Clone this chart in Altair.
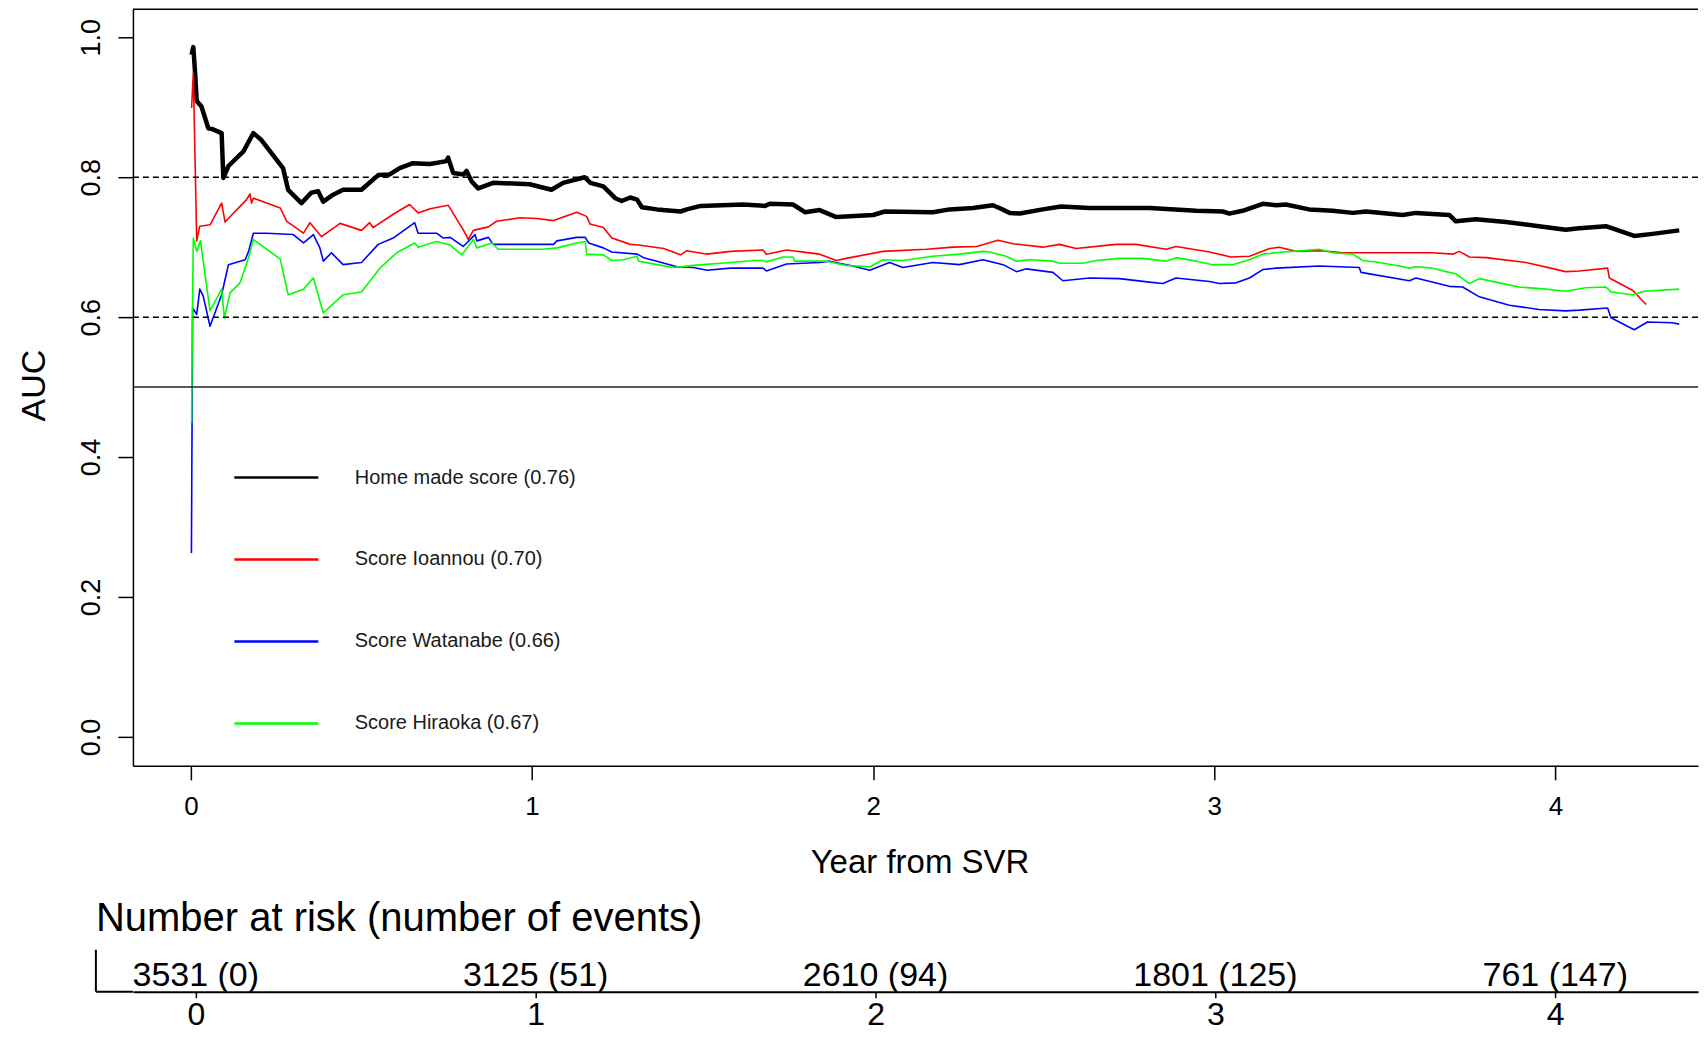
import altair as alt
import pandas as pd

FONT = "Liberation Sans"

# ---------------- data ----------------
series_names = [
    "Home made score (0.76)",
    "Score Ioannou (0.70)",
    "Score Watanabe (0.66)",
    "Score Hiraoka (0.67)",
]
series_colors = ["#000000", "#FF0000", "#0000FF", "#00FF00"]
series_widths = [4.5, 1.6, 1.6, 1.6]

home_t = [0.002, 0.007, 0.012, 0.017, 0.031, 0.051, 0.061, 0.090, 0.095, 0.110, 0.154, 0.183,
          0.205, 0.270, 0.285, 0.324, 0.353, 0.373, 0.388, 0.417, 0.446, 0.500, 0.549, 0.583,
          0.612, 0.651, 0.701, 0.749, 0.754, 0.769, 0.799, 0.808, 0.823, 0.842, 0.886, 0.993,
          1.057, 1.091, 1.154, 1.171, 1.209, 1.244, 1.263, 1.288, 1.308, 1.322, 1.366, 1.435,
          1.454, 1.494, 1.619, 1.683, 1.697, 1.765, 1.800, 1.843, 1.892, 2.000, 2.034, 2.175,
          2.224, 2.293, 2.351, 2.370, 2.400, 2.430, 2.497, 2.551, 2.634, 2.810, 2.947, 3.025,
          3.044, 3.083, 3.142, 3.181, 3.210, 3.278, 3.347, 3.406, 3.445, 3.552, 3.591, 3.689,
          3.708, 3.767, 3.855, 3.952, 4.030, 4.070, 4.148, 4.231, 4.285, 4.363]
home_auc = [0.975, 0.986, 0.951, 0.909, 0.901, 0.870, 0.869, 0.863, 0.799, 0.816, 0.837, 0.863,
            0.854, 0.813, 0.782, 0.763, 0.778, 0.780, 0.765, 0.775, 0.782, 0.782, 0.803, 0.804,
            0.813, 0.820, 0.819, 0.823, 0.828, 0.806, 0.804, 0.809, 0.794, 0.784, 0.792, 0.790,
            0.782, 0.792, 0.800, 0.792, 0.787, 0.770, 0.766, 0.771, 0.768, 0.757, 0.754, 0.751,
            0.754, 0.759, 0.761, 0.759, 0.762, 0.761, 0.750, 0.753, 0.743, 0.746, 0.751, 0.750,
            0.754, 0.756, 0.760, 0.756, 0.749, 0.748, 0.754, 0.758, 0.756, 0.756, 0.752, 0.751,
            0.748, 0.752, 0.762, 0.760, 0.761, 0.754, 0.752, 0.749, 0.751, 0.746, 0.749, 0.746,
            0.737, 0.740, 0.736, 0.730, 0.725, 0.727, 0.730, 0.716, 0.719, 0.724]

ioannou_t = [0.002, 0.007, 0.017, 0.026, 0.056, 0.090, 0.100, 0.163, 0.173, 0.178, 0.183, 0.262,
             0.281, 0.330, 0.349, 0.383, 0.437, 0.500, 0.524, 0.534, 0.593, 0.641, 0.666, 0.701,
             0.754, 0.798, 0.813, 0.828, 0.872, 0.896, 0.965, 1.014, 1.063, 1.131, 1.160, 1.170,
             1.209, 1.234, 1.288, 1.312, 1.386, 1.435, 1.454, 1.513, 1.582, 1.677, 1.687, 1.746,
             1.843, 1.892, 1.921, 2.029, 2.156, 2.234, 2.303, 2.366, 2.410, 2.497, 2.546, 2.595,
             2.712, 2.771, 2.859, 2.888, 2.986, 3.049, 3.103, 3.162, 3.191, 3.240, 3.308, 3.377,
             3.640, 3.699, 3.718, 3.748, 3.797, 3.914, 4.030, 4.070, 4.153, 4.158, 4.227, 4.266]
ioannou_auc = [0.899, 0.949, 0.709, 0.730, 0.732, 0.763, 0.736, 0.768, 0.776, 0.763, 0.770, 0.756,
               0.737, 0.720, 0.735, 0.715, 0.734, 0.724, 0.735, 0.728, 0.747, 0.761, 0.749, 0.755,
               0.760, 0.725, 0.711, 0.724, 0.729, 0.737, 0.742, 0.741, 0.738, 0.750, 0.744, 0.733,
               0.728, 0.713, 0.704, 0.703, 0.698, 0.689, 0.695, 0.690, 0.694, 0.696, 0.690, 0.696,
               0.690, 0.681, 0.684, 0.694, 0.697, 0.700, 0.701, 0.710, 0.705, 0.700, 0.704, 0.698,
               0.704, 0.704, 0.697, 0.701, 0.693, 0.686, 0.687, 0.698, 0.700, 0.694, 0.695, 0.692,
               0.692, 0.690, 0.694, 0.686, 0.685, 0.678, 0.665, 0.666, 0.670, 0.656, 0.638, 0.618]

watanabe_t = [0.0015, 0.005, 0.017, 0.026, 0.036, 0.056, 0.090, 0.110, 0.159, 0.169, 0.183, 0.222,
              0.300, 0.330, 0.359, 0.378, 0.388, 0.412, 0.446, 0.500, 0.549, 0.593, 0.656, 0.666,
              0.720, 0.740, 0.760, 0.798, 0.833, 0.838, 0.872, 0.886, 1.063, 1.073, 1.131, 1.156,
              1.166, 1.209, 1.234, 1.308, 1.327, 1.366, 1.425, 1.473, 1.513, 1.582, 1.677, 1.687,
              1.746, 1.843, 1.872, 1.940, 1.990, 2.048, 2.087, 2.175, 2.253, 2.322, 2.381, 2.420,
              2.449, 2.527, 2.556, 2.634, 2.722, 2.810, 2.849, 2.888, 2.986, 3.015, 3.064, 3.103,
              3.142, 3.181, 3.308, 3.425, 3.430, 3.572, 3.591, 3.689, 3.728, 3.777, 3.865, 3.952,
              4.030, 4.070, 4.153, 4.163, 4.231, 4.270, 4.343, 4.363]
watanabe_auc = [0.263, 0.613, 0.604, 0.640, 0.630, 0.587, 0.632, 0.675, 0.682, 0.694, 0.720, 0.720,
                0.718, 0.706, 0.718, 0.699, 0.680, 0.692, 0.675, 0.678, 0.704, 0.713, 0.735, 0.720,
                0.720, 0.713, 0.714, 0.701, 0.718, 0.709, 0.714, 0.704, 0.704, 0.709, 0.714, 0.714,
                0.706, 0.699, 0.693, 0.690, 0.685, 0.680, 0.672, 0.671, 0.667, 0.670, 0.670, 0.666,
                0.676, 0.678, 0.680, 0.673, 0.667, 0.678, 0.671, 0.678, 0.675, 0.682, 0.675, 0.665,
                0.669, 0.664, 0.652, 0.656, 0.655, 0.650, 0.648, 0.656, 0.651, 0.648, 0.649, 0.656,
                0.668, 0.670, 0.673, 0.671, 0.664, 0.652, 0.656, 0.644, 0.643, 0.629, 0.617, 0.611,
                0.609, 0.610, 0.613, 0.599, 0.582, 0.593, 0.592, 0.590]

hiraoka_t = [0.002, 0.004, 0.007, 0.017, 0.028, 0.056, 0.090, 0.098, 0.115, 0.144, 0.169, 0.183,
             0.262, 0.285, 0.330, 0.359, 0.388, 0.446, 0.500, 0.554, 0.603, 0.656, 0.666, 0.720,
             0.760, 0.794, 0.828, 0.838, 0.882, 0.901, 1.033, 1.073, 1.131, 1.156, 1.160, 1.209,
             1.234, 1.268, 1.308, 1.312, 1.366, 1.415, 1.473, 1.582, 1.648, 1.677, 1.687, 1.736,
             1.765, 1.770, 1.863, 1.921, 1.990, 2.029, 2.087, 2.175, 2.253, 2.322, 2.342, 2.390,
             2.420, 2.459, 2.527, 2.546, 2.615, 2.654, 2.722, 2.790, 2.859, 2.888, 2.947, 2.996,
             3.054, 3.103, 3.142, 3.201, 3.230, 3.308, 3.347, 3.406, 3.435, 3.484, 3.542, 3.572,
             3.591, 3.640, 3.689, 3.708, 3.748, 3.777, 3.835, 3.894, 3.972, 4.030, 4.089, 4.148,
             4.163, 4.227, 4.261, 4.363]
hiraoka_auc = [0.449, 0.583, 0.713, 0.694, 0.709, 0.609, 0.640, 0.599, 0.635, 0.649, 0.685, 0.711,
               0.683, 0.632, 0.640, 0.656, 0.606, 0.632, 0.636, 0.670, 0.692, 0.706, 0.700, 0.708,
               0.703, 0.689, 0.711, 0.699, 0.706, 0.697, 0.697, 0.699, 0.706, 0.708, 0.690, 0.689,
               0.681, 0.682, 0.687, 0.680, 0.675, 0.671, 0.674, 0.678, 0.681, 0.681, 0.679, 0.686,
               0.686, 0.680, 0.680, 0.674, 0.672, 0.682, 0.681, 0.687, 0.690, 0.694, 0.693, 0.687,
               0.680, 0.682, 0.680, 0.677, 0.677, 0.681, 0.684, 0.684, 0.680, 0.685, 0.680, 0.675,
               0.675, 0.682, 0.690, 0.693, 0.694, 0.697, 0.692, 0.690, 0.681, 0.678, 0.673, 0.670,
               0.672, 0.670, 0.664, 0.662, 0.648, 0.655, 0.649, 0.643, 0.640, 0.637, 0.642, 0.643,
               0.636, 0.632, 0.637, 0.640]

ref_dashed = [0.8, 0.6]
ref_solid = [0.5]

y_ticks = [0.0, 0.2, 0.4, 0.6, 0.8, 1.0]
x_ticks = [0, 1, 2, 3, 4]

risk_years = [0, 1, 2, 3, 4]
risk_labels = ["3531 (0)", "3125 (51)", "2610 (94)", "1801 (125)", "761 (147)"]

# ---------------- build table ----------------
rows = []
for name, w, ts, vs in zip(series_names, series_widths,
                           [home_t, ioannou_t, watanabe_t, hiraoka_t],
                           [home_auc, ioannou_auc, watanabe_auc, hiraoka_auc]):
    for i, (t, v) in enumerate(zip(ts, vs)):
        rows.append({"series": name, "t": t, "auc": v, "i": i, "w": w})
df = pd.DataFrame(rows)

# ---------------- layout ----------------
W = 1566
H_A = 757
H_B = 42
X_DOM_A = [-0.17, 4.418]
Y_DOM = [-0.0414, 1.04]
X_DOM_B = [-0.185, 4.42]
B_LEFT = -0.294

xs_a = alt.Scale(domain=X_DOM_A, nice=False, zero=False)
ys_a = alt.Scale(domain=Y_DOM, nice=False, zero=False)

x_axis = alt.Axis(values=x_ticks, format="d", title="Year from SVR", grid=False,
                  labelFontSize=26, labelFont=FONT, labelColor="black", labelPadding=14,
                  labelFlush=False, labelOverlap=False,
                  tickSize=14, tickWidth=1.5, tickColor="black",
                  domainColor="black", domainWidth=1.5,
                  titleFontSize=33, titleFont=FONT, titleFontWeight="normal", titleColor="black",
                  titleX=787, titleY=107, titleAlign="center", titleBaseline="alphabetic")
y_axis = alt.Axis(values=y_ticks, format=".1f", title="AUC", grid=False,
                  labelAngle=270, labelAlign="center", labelBaseline="alphabetic",
                  labelFontSize=27, labelFont=FONT, labelColor="black", labelPadding=18,
                  labelFlush=False, labelOverlap=False,
                  tickSize=15, tickWidth=1.5, tickColor="black",
                  domainColor="black", domainWidth=1.5,
                  titleFontSize=34, titleFont=FONT, titleFontWeight="normal", titleColor="black",
                  titleAngle=270, titleX=-88, titleY=376, titleAlign="center",
                  titleBaseline="alphabetic")

lines = alt.Chart(df).mark_line(strokeJoin="round").encode(
    x=alt.X("t:Q", scale=xs_a, axis=x_axis),
    y=alt.Y("auc:Q", scale=ys_a, axis=y_axis),
    color=alt.Color("series:N",
                    scale=alt.Scale(domain=series_names, range=series_colors),
                    legend=alt.Legend(title=None, orient="none", legendX=100, legendY=425,
                                      symbolType="stroke", symbolSize=7056,
                                      symbolStrokeWidth=2.5, labelFontSize=20,
                                      labelFont=FONT, labelColor="#1a1a1a", labelOffset=35,
                                      rowPadding=28, padding=0, labelLimit=0)),
    strokeWidth=alt.StrokeWidth("w:Q", scale=None),
    order=alt.Order("i:Q"),
)

dashed = alt.Chart(pd.DataFrame({"v": ref_dashed})).mark_rule(
    color="black", strokeWidth=1.5, strokeDash=[6, 4]
).encode(y=alt.Y("v:Q", scale=ys_a, axis=y_axis))

solid = alt.Chart(pd.DataFrame({"v": ref_solid})).mark_rule(
    color="#222222", strokeWidth=1.5
).encode(y=alt.Y("v:Q", scale=ys_a, axis=y_axis))

top_frame = alt.Chart(pd.DataFrame({"v": [Y_DOM[1]]})).mark_rule(
    color="black", strokeWidth=1.5
).encode(y=alt.Y("v:Q", scale=ys_a, axis=y_axis))

chart_a = alt.layer(lines, dashed, solid, top_frame).properties(width=W, height=H_A)

# ---------------- risk table ----------------
xs_b = alt.Scale(domain=X_DOM_B, nice=False, zero=False)
x_axis_b = alt.Axis(values=x_ticks, format="d", title=None, grid=False,
                    labelFontSize=32, labelFont=FONT, labelColor="black", labelPadding=2,
                    labelFlush=False, labelOverlap=False,
                    tickSize=6, tickWidth=1.5, tickColor="black",
                    domainColor="black", domainWidth=2)

risk_df = pd.DataFrame({"year": risk_years, "label": risk_labels})
risk_text = alt.Chart(risk_df).mark_text(
    fontSize=34, font=FONT, color="black", align="center", baseline="middle"
).encode(
    x=alt.X("year:Q", scale=xs_b, axis=x_axis_b),
    y=alt.value(26),
    text="label:N",
)
left_line = alt.Chart(pd.DataFrame({"year": [B_LEFT]})).mark_rule(
    color="black", strokeWidth=2
).encode(x=alt.X("year:Q", scale=xs_b, axis=x_axis_b))
bottom_ext = alt.Chart(pd.DataFrame({"a": [B_LEFT], "b": [X_DOM_B[0]]})).mark_rule(
    color="black", strokeWidth=2
).encode(x=alt.X("a:Q", scale=xs_b, axis=x_axis_b), x2="b:Q", y=alt.value(H_B))

chart_b = alt.layer(risk_text, left_line, bottom_ext).properties(
    width=W, height=H_B,
    title=alt.TitleParams("Number at risk (number of events)", anchor="start", frame="group",
                          fontSize=40, font=FONT, fontWeight="normal", color="black",
                          dx=-37, offset=-22, baseline="alphabetic"),
)

chart = alt.vconcat(chart_a, chart_b, spacing=184, bounds="flush").properties(
    padding={"left": 10, "top": 0, "right": 0, "bottom": 0}
).configure(font=FONT).configure_view(stroke=None)

chart.save("out.html", embed_options={"renderer": "svg", "actions": False})
